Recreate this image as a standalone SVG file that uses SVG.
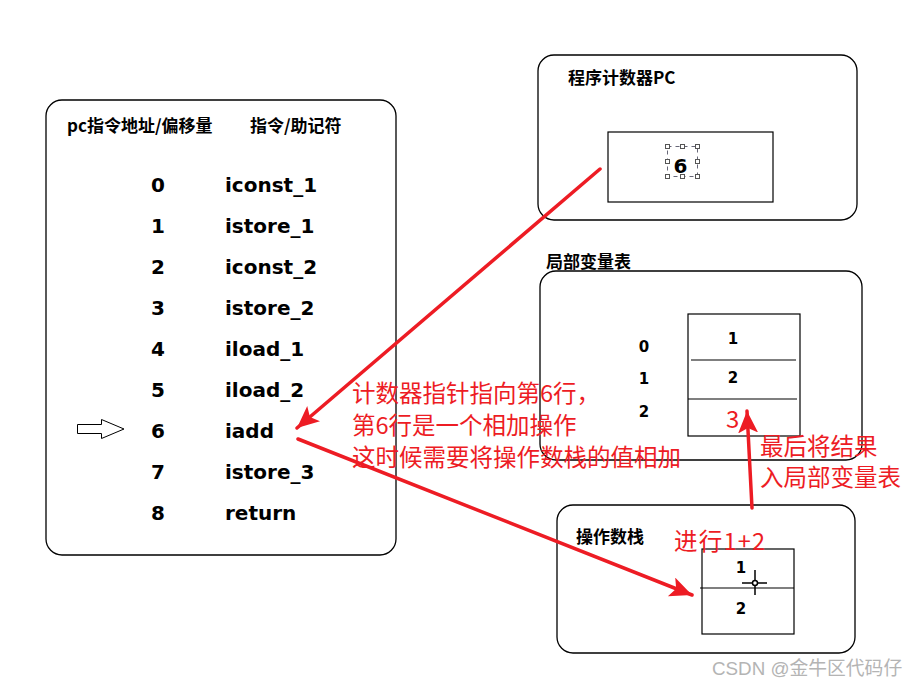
<svg xmlns="http://www.w3.org/2000/svg" width="918" height="694" viewBox="0 0 918 694">
<style>
.box{fill:none;stroke:#000;stroke-width:1.3}
.cell{fill:none;stroke:#000;stroke-width:1.2}
.hdr{font-family:"Noto Sans CJK SC","DejaVu Sans",sans-serif;font-weight:bold;font-size:17px;fill:#000}
.ins{font-family:"DejaVu Sans","Noto Sans CJK SC",sans-serif;font-weight:bold;font-size:20px;fill:#000}
.val{font-family:"DejaVu Sans",sans-serif;font-weight:bold;font-size:15px;fill:#000;text-anchor:middle}
.red{font-family:"Noto Sans CJK SC","Liberation Sans",sans-serif;font-size:23.5px;fill:#ed1c24}
.conn{stroke:#ed1c24;stroke-width:3.5;fill:none;stroke-linecap:round}
.wm{font-family:"Liberation Sans","Noto Sans CJK SC",sans-serif;font-size:18.8px;fill:#b4b4b4}
.hd{fill:#fff;stroke:#555;stroke-width:1}
</style>
<defs>
<marker id="ah" markerUnits="userSpaceOnUse" markerWidth="26" markerHeight="22" refX="22" refY="10" orient="auto">
<path d="M0,0 L22,10 L0,20 L5,10 Z" fill="#ed1c24"/>
</marker>
</defs>
<rect width="918" height="694" fill="#fff"/>

<g id="bytecode">
<rect class="box" x="46" y="100" width="350" height="455" rx="16"/>
<text class="hdr" x="67" y="132">pc指令地址/偏移量</text>
<text class="hdr" x="250" y="132">指令/助记符</text>
<text class="ins" x="151" y="192">0</text><text class="ins" x="225" y="192">iconst_1</text>
<text class="ins" x="151" y="233">1</text><text class="ins" x="225" y="233">istore_1</text>
<text class="ins" x="151" y="274">2</text><text class="ins" x="225" y="274">iconst_2</text>
<text class="ins" x="151" y="315">3</text><text class="ins" x="225" y="315">istore_2</text>
<text class="ins" x="151" y="356">4</text><text class="ins" x="225" y="356">iload_1</text>
<text class="ins" x="151" y="397">5</text><text class="ins" x="225" y="397">iload_2</text>
<text class="ins" x="151" y="438">6</text><text class="ins" x="225" y="438">iadd</text>
<text class="ins" x="151" y="479">7</text><text class="ins" x="225" y="479">istore_3</text>
<text class="ins" x="151" y="520">8</text><text class="ins" x="225" y="520">return</text>
<path d="M77.5,424.5 H101.5 V419.5 L124,429 L101.5,438.5 V433.5 H77.5 Z" fill="#fff" stroke="#000" stroke-width="1"/>
</g>

<g id="pc">
<rect class="box" x="538" y="55" width="319" height="165" rx="16"/>
<text class="hdr" x="568" y="84">程序计数器PC</text>
<rect class="cell" x="608" y="132" width="165" height="70"/>
<rect x="667.5" y="146.5" width="30" height="30" fill="none" stroke="#667" stroke-width="1" stroke-dasharray="4,4"/>
<rect class="hd" x="665.5" y="144.5" width="4" height="4"/><rect class="hd" x="680.5" y="144.5" width="4" height="4"/><rect class="hd" x="695.5" y="144.5" width="4" height="4"/>
<rect class="hd" x="665.5" y="159.5" width="4" height="4"/><rect class="hd" x="695.5" y="159.5" width="4" height="4"/>
<rect class="hd" x="665.5" y="174.5" width="4" height="4"/><rect class="hd" x="680.5" y="174.5" width="4" height="4"/><rect class="hd" x="695.5" y="174.5" width="4" height="4"/>
<text class="ins" x="680.5" y="173" font-size="22" text-anchor="middle">6</text>
</g>

<g id="locals">
<text class="hdr" x="546" y="268">局部变量表</text>
<rect class="box" x="540" y="271" width="322" height="189" rx="16"/>
<rect class="cell" x="688" y="314" width="112" height="122"/>
<line class="cell" x1="691" y1="360" x2="796" y2="360"/>
<line class="cell" x1="688" y1="399" x2="797" y2="399"/>
<text class="val" x="733" y="344" font-size="16">1</text>
<text class="val" x="733" y="383" font-size="16">2</text>
<text x="726" y="428" font-family="Noto Sans CJK SC, Liberation Sans, sans-serif" font-size="24" fill="#ed1c24">3</text>
<text class="val" x="644" y="352">0</text>
<text class="val" x="644" y="384">1</text>
<text class="val" x="644" y="417">2</text>
</g>

<g id="stack">
<rect class="box" x="557" y="505" width="298" height="148" rx="16"/>
<text class="hdr" x="576" y="543">操作数栈</text>
<rect class="cell" x="702" y="549" width="92" height="85"/>
<line class="cell" x1="700" y1="588" x2="794" y2="588"/>
<text class="val" x="741" y="573" font-size="16">1</text>
<text class="val" x="741" y="614" font-size="16">2</text>
<g stroke="#000" stroke-width="1.5" fill="none">
<line x1="742" y1="583" x2="767" y2="583"/><line x1="755" y1="570" x2="755" y2="595"/>
<circle cx="755" cy="583" r="2.5" fill="#fff"/>
</g>
<text class="red" x="674" y="550" font-size="23.5" textLength="91" lengthAdjust="spacing">进行1+2</text>
</g>

<g id="notes">
<text class="red" x="352" y="402">计数器指针指向第6行，</text>
<text class="red" x="352" y="434">第6行是一个相加操作</text>
<text class="red" x="352" y="466">这时候需要将操作数栈的值相加</text>
<text class="red" x="760" y="455" font-size="23">最后将结果</text>
<text class="red" x="760" y="486" font-size="23.5">入局部变量表</text>
</g>

<g id="connectors">
<line class="conn" x1="600" y1="169" x2="297" y2="428" marker-end="url(#ah)"/>
<line class="conn" x1="298" y1="439" x2="692" y2="595" marker-end="url(#ah)"/>
<line class="conn" x1="752" y1="508" x2="747" y2="411" marker-end="url(#ah)"/>
</g>

<text class="wm" x="712" y="675">CSDN @金牛区代码仔</text>
</svg>
